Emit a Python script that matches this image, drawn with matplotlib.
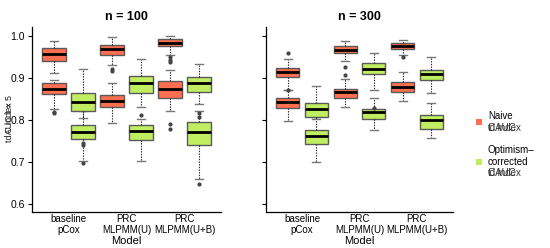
import matplotlib
matplotlib.use("Agg")
import matplotlib.pyplot as plt
from matplotlib.patches import Rectangle

plt.rcParams['font.family'] = ['Liberation Sans', 'DejaVu Sans']

models = ["baseline\npCox", "PRC\nMLPMM(U)", "PRC\nMLPMM(U+B)"]
panels = ["n = 100", "n = 300"]

# stats per model: [whislo, q1, med, q3, whishi]
# n = 100
n100_naive_hi = [[0.912, 0.939, 0.956, 0.9715, 0.988],
                 [0.930, 0.955, 0.968, 0.979, 0.997],
                 [0.954, 0.975, 0.983, 0.9917, 0.999]]
n100_naive_hi_out = [[], [0.920, 0.916], [0.950, 0.942, 0.938]]
n100_naive_lo = [[0.826, 0.861, 0.8736, 0.8865, 0.894],
                 [0.793, 0.831, 0.845, 0.860, 0.888],
                 [0.8215, 0.852, 0.874, 0.893, 0.918]]
n100_naive_lo_out = [[0.818, 0.815], [], [0.790, 0.777]]
n100_opt_hi = [[0.805, 0.8207, 0.842, 0.8627, 0.921],
               [0.831, 0.863, 0.8865, 0.904, 0.944],
               [0.837, 0.866, 0.8865, 0.902, 0.933]]
n100_opt_hi_out = [[], [0.812], [0.815, 0.806]]
n100_opt_lo = [[0.701, 0.7535, 0.7715, 0.7874, 0.822],
               [0.701, 0.753, 0.773, 0.787, 0.801],
               [0.659, 0.740, 0.770, 0.795, 0.822]]
n100_opt_lo_out = [[0.745, 0.740, 0.698], [], [0.647]]

# n = 300
n300_naive_hi = [[0.872, 0.902, 0.913, 0.9235, 0.944],
                 [0.939, 0.9577, 0.967, 0.975, 0.9876],
                 [0.9537, 0.9687, 0.9767, 0.983, 0.990]]
n300_naive_hi_out = [[0.958, 0.870], [0.926, 0.906], [0.950]]
n300_naive_lo = [[0.797, 0.827, 0.843, 0.852, 0.870],
                 [0.8295, 0.852, 0.865, 0.873, 0.897],
                 [0.845, 0.866, 0.8784, 0.890, 0.913]]
n300_naive_lo_out = [[], [], []]
n300_opt_hi = [[0.803, 0.807, 0.8247, 0.840, 0.880],
               [0.872, 0.9085, 0.922, 0.9354, 0.958],
               [0.8627, 0.894, 0.908, 0.918, 0.9497]]
n300_opt_hi_out = [[], [], []]
n300_opt_lo = [[0.700, 0.742, 0.761, 0.7755, 0.806],
               [0.775, 0.8017, 0.8176, 0.8254, 0.851],
               [0.757, 0.778, 0.7993, 0.811, 0.840]]
n300_opt_lo_out = [[], [0.827], []]

panel_data = [
    [(n100_naive_lo, n100_naive_lo_out, "naive"), (n100_naive_hi, n100_naive_hi_out, "naive"),
     (n100_opt_lo, n100_opt_lo_out, "opt"), (n100_opt_hi, n100_opt_hi_out, "opt")],
    [(n300_naive_lo, n300_naive_lo_out, "naive"), (n300_naive_hi, n300_naive_hi_out, "naive"),
     (n300_opt_lo, n300_opt_lo_out, "opt"), (n300_opt_hi, n300_opt_hi_out, "opt")],
]

colors = {"naive": "#FF6E50", "opt": "#C0EE60"}
offsets = {"naive": -0.25, "opt": 0.25}

fig = plt.figure(figsize=(5.5, 2.48), dpi=100)
W, H = 550.0, 248.0
ax_rects = [(32, 27.3, 189, 185), (266, 27.3, 187, 185)]

for p, (rect, title) in enumerate(zip(ax_rects, panels)):
    x0, y0, w, h = rect
    ax = fig.add_axes([x0 / W, 1 - (y0 + h) / H, w / W, h / H])
    for stats_list, outs, grp in panel_data[p]:
        bstats = []
        for s, o in zip(stats_list, outs):
            bstats.append(dict(whislo=s[0], q1=s[1], med=s[2], q3=s[3], whishi=s[4], fliers=o))
        pos = [i + offsets[grp] for i in range(len(models))]
        ax.bxp(bstats, positions=pos, widths=0.4, patch_artist=True, showfliers=True,
               capwidths=0.14,
               boxprops=dict(facecolor=colors[grp], edgecolor="#5a5a5a", linewidth=1.0),
               medianprops=dict(color="black", linewidth=2.0),
               whiskerprops=dict(color="#222222", linewidth=0.8, linestyle=(0, (1.2, 1.2))),
               capprops=dict(color="#777777", linewidth=1.0),
               flierprops=dict(marker="o", markersize=2, markerfacecolor="#444444",
                               markeredgecolor="#444444"))
    ax.set_xlim(-0.63, 2.63)
    ax.set_ylim(0.58, 1.02)
    ax.set_yticks([0.6, 0.7, 0.8, 0.9, 1.0])
    ax.set_yticklabels(["0.6", "0.7", "0.8", "0.9", "1.0"])
    ax.set_xticks(range(len(models)))
    ax.set_xticklabels(models, fontsize=7, linespacing=1.05)
    ax.tick_params(axis="x", length=0, pad=1.5)
    ax.tick_params(axis="y", length=3, width=0.8, labelsize=7.5, pad=2)
    for s in ["top", "right"]:
        ax.spines[s].set_visible(False)
    for s in ["left", "bottom"]:
        ax.spines[s].set_linewidth(0.9)
    ax.set_title(title, fontsize=9, fontweight="bold", pad=5)
    ax.set_xlabel("Model", fontsize=8, labelpad=1)
    if p == 1:
        ax.set_yticklabels([])

# overlapping y-axis title
for s in ["C index", "tdAUC t = 5"]:
    fig.text(10 / W, 1 - 118 / H, s, rotation=90, ha="center", va="center",
             fontsize=6.5, color="#222222")

# legend
sq = 5.5
fig.add_artist(Rectangle(((479 - sq / 2) / W, 1 - (122 + sq / 2) / H), sq / W, sq / H,
                         transform=fig.transFigure, facecolor=colors["naive"], edgecolor="none"))
fig.add_artist(Rectangle(((479 - sq / 2) / W, 1 - (162 + sq / 2) / H), sq / W, sq / H,
                         transform=fig.transFigure, facecolor=colors["opt"], edgecolor="none"))
fig.text(488 / W, 1 - 116 / H, "Naive", fontsize=7, va="center", ha="left")
for s in ["C index", "tdAUC"]:
    fig.text(488 / W, 1 - 128 / H, s, fontsize=7, va="center", ha="left", color="#333333")
fig.text(488 / W, 1 - 150 / H, "Optimism\u2013", fontsize=7, va="center", ha="left")
fig.text(488 / W, 1 - 162 / H, "corrected", fontsize=7, va="center", ha="left")
for s in ["C index", "tdAUC"]:
    fig.text(488 / W, 1 - 173.5 / H, s, fontsize=7, va="center", ha="left", color="#333333")

fig.savefig("out.png", dpi=100)
